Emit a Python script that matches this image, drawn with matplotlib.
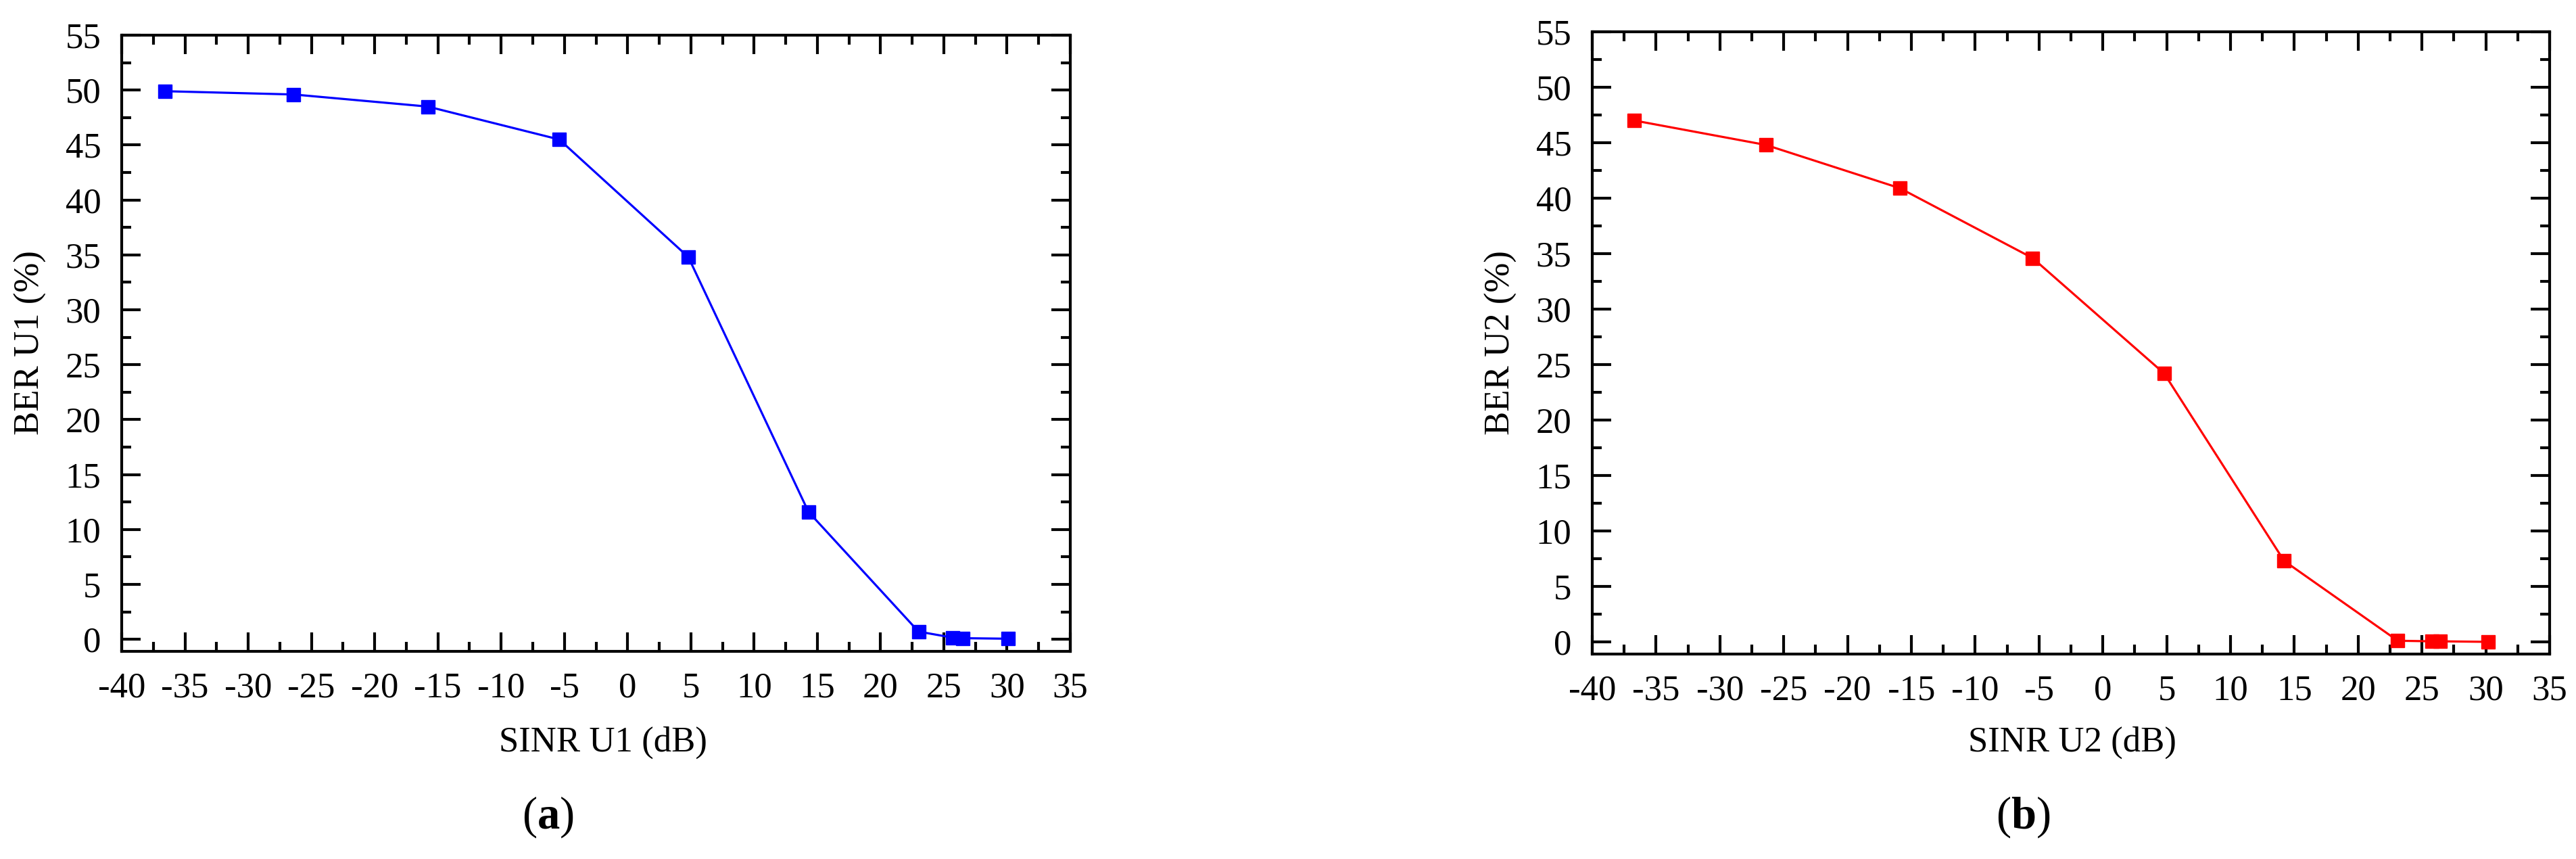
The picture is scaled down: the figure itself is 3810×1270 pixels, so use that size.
import matplotlib
matplotlib.use("Agg")
import matplotlib.pyplot as plt
from matplotlib.ticker import MultipleLocator

# ---- data ----
sinr_u1 = [-36.6, -26.4, -15.8, -5.4, 4.8, 14.3, 23.0, 25.7, 26.5, 30.1]
ber_u1 = [49.9, 49.6, 48.5, 45.5, 34.8, 11.6, 0.7, 0.15, 0.1, 0.05]
sinr_u2 = [-36.7, -26.4, -15.9, -5.5, 4.8, 14.2, 23.1, 25.8, 26.4, 30.2]
ber_u2 = [47.0, 44.8, 40.9, 34.6, 24.2, 7.3, 0.1, 0.05, 0.05, 0.0]
x_ticks = list(range(-40, 40, 5))
y_ticks = list(range(0, 60, 5))

FONT = "Liberation Serif"
plt.rcParams['font.family'] = [FONT, 'DejaVu Serif']
plt.rcParams['mathtext.fontset'] = 'custom'
plt.rcParams['mathtext.rm'] = FONT
plt.rcParams['mathtext.bf'] = FONT + ':bold'
plt.rcParams['axes.unicode_minus'] = False

W, H = 3810, 1270
fig = plt.figure(figsize=(W / 100, H / 100), dpi=100)

def px_rect(l, t, r, b):
    return [l / W, 1 - b / H, (r - l) / W, (b - t) / H]

panels = [
    dict(rect=px_rect(180, 52, 1583, 963), x=sinr_u1, y=ber_u1, color=(0, 0, 1),
         xlabel="SINR U1 (dB)", ylabel="BER U1 (%)", tag="($\\mathbf{a}$)",
         xl=892, yl=45, tx=810),
    dict(rect=px_rect(2355, 47, 3771, 967), x=sinr_u2, y=ber_u2, color=(1, 0, 0),
         xlabel="SINR U2 (dB)", ylabel="BER U2 (%)", tag="($\\mathbf{b}$)",
         xl=3065, yl=2220, tx=2992),
]

for p in panels:
    ax = fig.add_axes(p['rect'])
    ax.plot(p['x'], p['y'], color=p['color'], lw=2.3, marker='s', ms=14,
            mec=p['color'], mfc=p['color'])
    ax.set_xlim(-40, 35)
    ax.set_ylim(-1.1, 55)
    ax.set_xticks(x_ticks)
    ax.set_yticks(y_ticks)
    ax.xaxis.set_minor_locator(MultipleLocator(2.5))
    ax.yaxis.set_minor_locator(MultipleLocator(2.5))
    ax.tick_params(which='both', direction='in', top=True, right=True,
                   width=3, labelsize=38, colors='black')
    ax.tick_params(which='major', length=20, pad=22)
    ax.tick_params(which='minor', length=10)
    for s in ax.spines.values():
        s.set_linewidth(3)
    fig.text(p['xl'] / W, 1 - 1098 / H, p['xlabel'], ha='center', va='center', fontsize=38)
    fig.text(p['yl'] / W, 1 - 507 / H, p['ylabel'], ha='center', va='center',
             rotation=90, fontsize=38)
    fig.text(p['tx'] / W, 1 - 1208 / H, p['tag'], ha='center', va='center', fontsize=48)

fig.savefig("out.png", dpi=100)
